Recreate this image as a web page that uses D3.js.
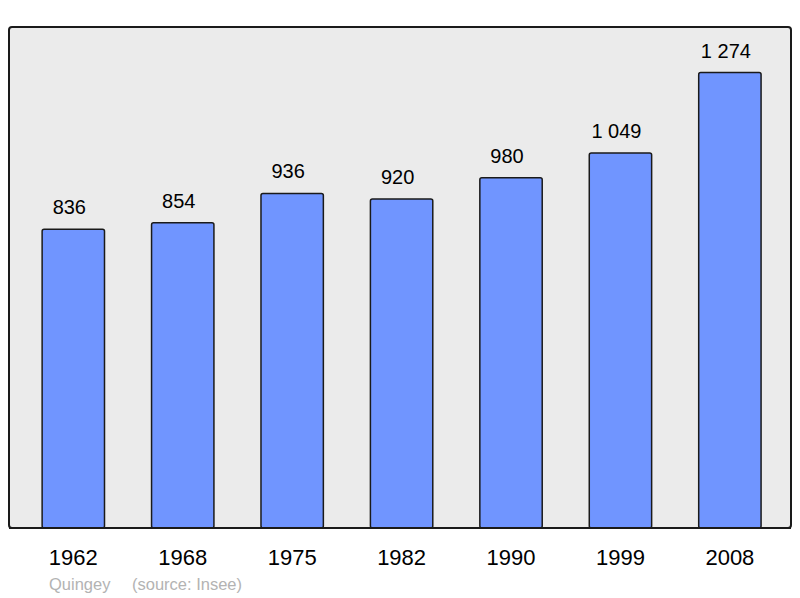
<!DOCTYPE html>
<html>
<head>
<meta charset="utf-8">
<script src="https://cdn.jsdelivr.net/npm/d3@7"></script>
<style>
  html, body { margin: 0; padding: 0; background: #fff; }
  svg { display: block; font-family: "Liberation Sans", Arial, sans-serif; }
</style>
</head>
<body>
<svg width="800" height="598"></svg>
<script>
const years = ["1962", "1968", "1975", "1982", "1990", "1999", "2008"];
const population = [836, 854, 936, 920, 980, 1049, 1274];
const commune = "Quingey";
const source = "(source: Insee)";

const svg = d3.select("svg");

const frame = { left: 9, top: 27, right: 791, bottom: 528 };

// light grey panel
svg.append("rect")
  .attr("x", frame.left)
  .attr("y", frame.top)
  .attr("width", frame.right - frame.left)
  .attr("height", frame.bottom - frame.top)
  .attr("rx", 3)
  .attr("fill", "#ebebeb")
  .attr("stroke", "#1a1a1a")
  .attr("stroke-width", 2);

const x = d3.scaleBand()
  .domain(years)
  .range([18.6, 784.6])
  .paddingInner(0.43)
  .paddingOuter(0.215);

const y = d3.scaleLinear()
  .domain([0, d3.max(population) * 1.1])
  .range([frame.bottom, frame.top]);

const data = years.map((yr, i) => ({ year: yr, value: population[i] }));

const fmt = v => d3.format(",")(v).replace(",", " ");

svg.append("g")
  .selectAll("rect")
  .data(data)
  .join("rect")
  .attr("x", d => x(d.year))
  .attr("y", d => y(d.value))
  .attr("width", x.bandwidth())
  .attr("height", d => y(0) - y(d.value))
  .attr("rx", 2)
  .attr("fill", "#7095ff")
  .attr("stroke", "#1a1a1a")
  .attr("stroke-width", 1.5);

// redraw bottom frame line over bars
svg.append("line")
  .attr("x1", frame.left)
  .attr("x2", frame.right)
  .attr("y1", frame.bottom)
  .attr("y2", frame.bottom)
  .attr("stroke", "#1a1a1a")
  .attr("stroke-width", 2);

// value labels sit a little left of the bar centre in the original
svg.append("g")
  .selectAll("text")
  .data(data)
  .join("text")
  .attr("x", d => x(d.year) + x.bandwidth() / 2 - 4)
  .attr("y", d => y(d.value) - 15)
  .attr("text-anchor", "middle")
  .attr("font-size", 20)
  .attr("fill", "#000")
  .text(d => fmt(d.value));

const xAxis = svg.append("g")
  .attr("transform", `translate(0,${frame.bottom})`)
  .call(d3.axisBottom(x).tickSize(0).tickPadding(0));
xAxis.select(".domain").remove();
xAxis.selectAll("text")
  .attr("dy", null)
  .attr("y", 37)
  .attr("font-size", 22)
  .attr("font-family", "Liberation Sans, Arial, sans-serif")
  .attr("fill", "#000");

svg.append("text")
  .attr("x", 49)
  .attr("y", 590)
  .attr("font-size", 16.5)
  .attr("fill", "#b3b3b3")
  .text(commune);

svg.append("text")
  .attr("x", 132)
  .attr("y", 590)
  .attr("font-size", 16.5)
  .attr("fill", "#b3b3b3")
  .text(source);
</script>
</body>
</html>
